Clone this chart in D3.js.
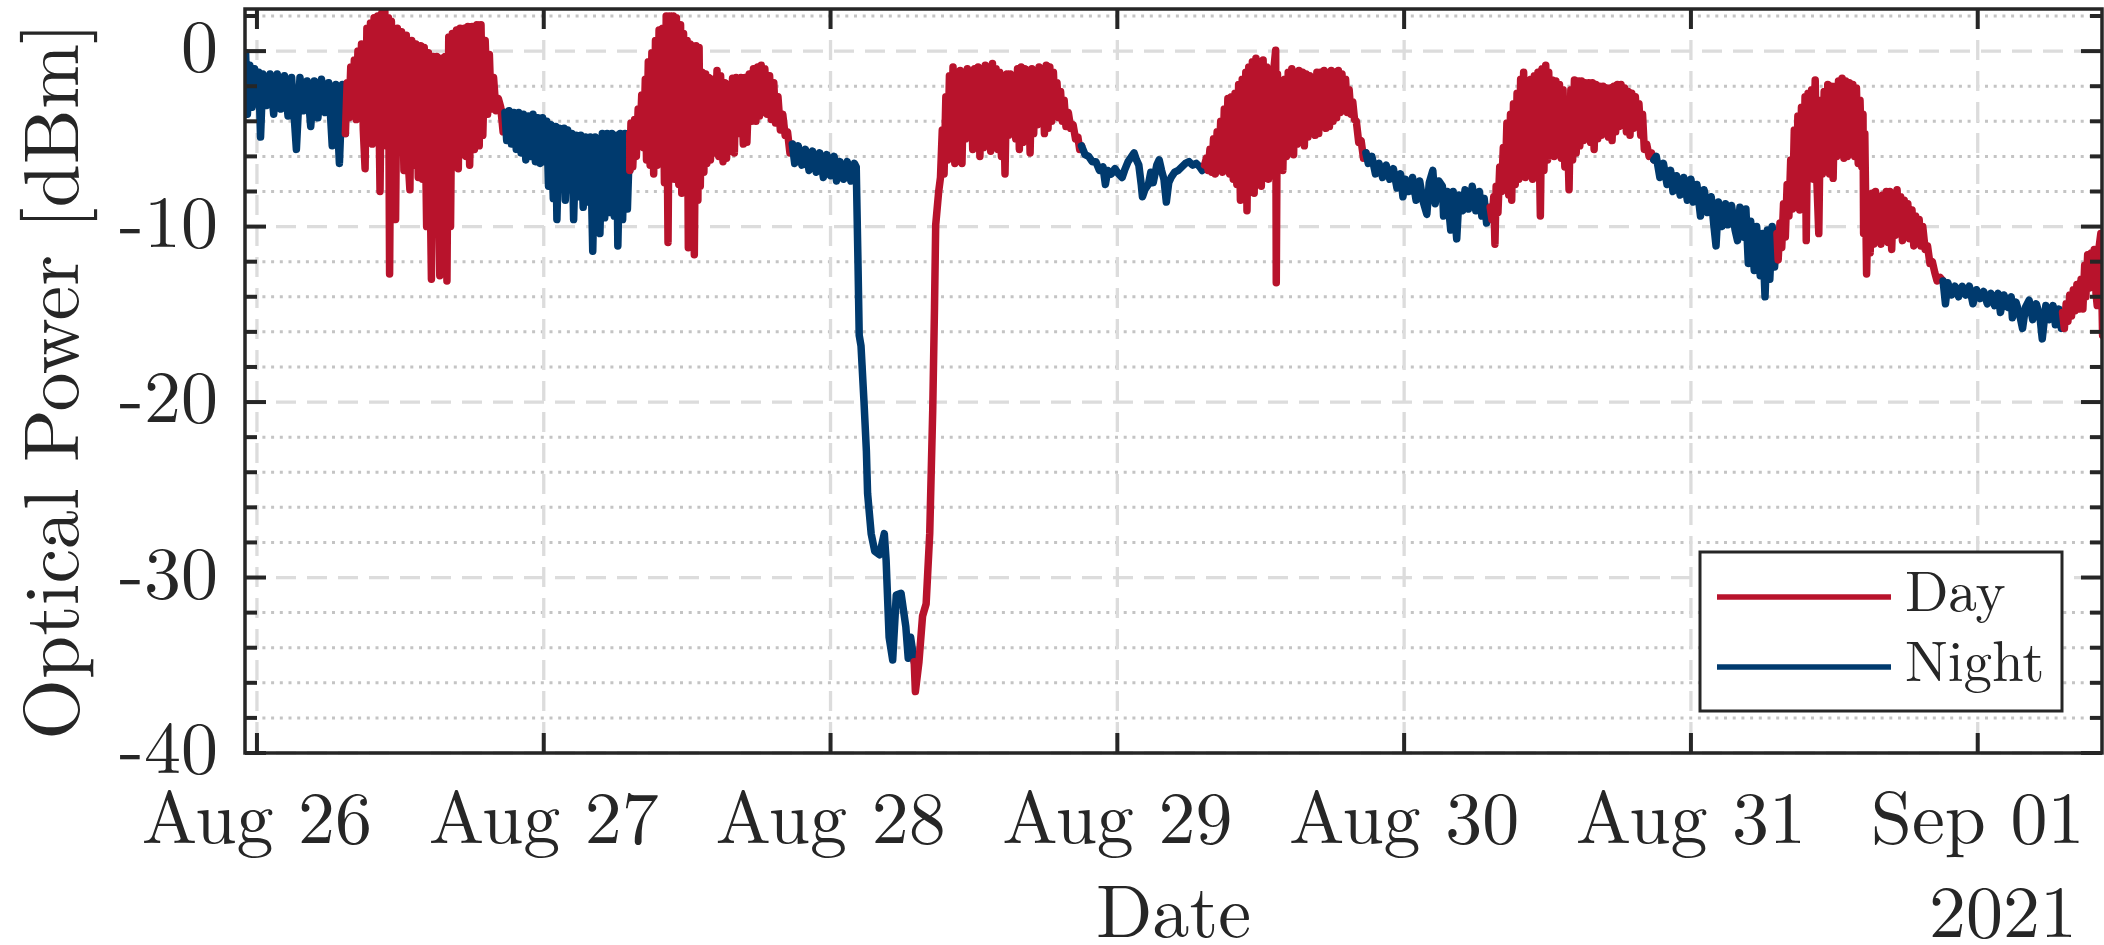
<!DOCTYPE html>
<html>
<head>
<meta charset="utf-8">
<script src="https://cdn.jsdelivr.net/npm/d3@7"></script>
<style>
  body { margin: 0; background: #fff; }
  text { font-family: "Latin Modern Roman", "CMU Serif", "Liberation Serif", "Times New Roman", serif; fill: #262626; }
</style>
</head>
<body>
<svg id="chart" width="2104" height="945"></svg>
<script>
// Optical power of a free-space link, Aug 26 - Sep 01 2021, day/night coloured

// hours after 2021-08-26 00:00 when the trace switches colour
const sunrise = [7.4, 31.2, 55.0, 79.3, 103.2, 127.2, 151.1];
const sunset = [20.75, 44.8, 69.0, 92.8, 116.9, 141.1];

const yMajor = [-40, -30, -20, -10, 0];
const seriesNames = ["Day", "Night"];

// [hour, dBm] (min/max envelope of the raw samples)
const power = [
  // night
  [-1.0,-1.5],[-0.95,-0.1],[-0.8,-3.6],[-0.6,-0.8],[-0.4,-3.2],[-0.2,-1.0],[0.0,-3.0],[0.15,-1.2],[0.3,-4.9],[0.5,-1.3],
  [0.8,-3.1],[1.1,-1.3],[1.4,-3.6],[1.7,-1.3],[2.0,-3.3],[2.3,-1.4],[2.6,-3.7],[2.9,-1.5],[3.3,-5.6],[3.6,-1.5],
  [3.9,-3.4],[4.2,-1.7],[4.5,-4.3],[4.8,-1.7],[5.1,-3.8],[5.4,-1.6],[5.7,-3.5],[6.0,-1.8],[6.3,-5.4],[6.6,-1.9],
  [6.9,-6.4],[7.15,-1.9],
  // day
  [7.4,-4.7],[7.55,-1.8],[7.7,-3.8],[7.85,-0.9],[8.0,-3.4],[8.15,-0.5],[8.3,-3.9],[8.45,0.0],[8.6,-3.0],[8.75,0.4],
  [8.9,-4.5],[9.05,-6.7],[9.2,1.3],[9.35,-4.8],[9.5,1.6],[9.65,-5.3],[9.8,1.9],[9.95,-5.2],[10.1,2.0],[10.3,-8.0],
  [10.45,2.2],[10.6,-5.3],[10.7,2.4],[10.85,-5.4],[11.0,1.9],[11.1,-12.7],[11.25,1.7],[11.45,-5.3],[11.6,-9.6],[11.75,1.3],
  [11.9,-5.5],[12.1,1.1],[12.3,-6.8],[12.5,0.9],[12.65,-6.2],[12.8,-7.9],[12.95,0.6],[13.1,-6.5],[13.3,0.4],[13.5,-7.2],
  [13.7,0.3],[13.85,-7.3],[14.0,0.2],[14.2,-10.0],[14.35,-0.1],[14.6,-13.0],[14.75,-0.3],[14.9,-10.1],[15.05,-0.3],[15.3,-12.8],
  [15.45,-0.4],[15.6,-10.2],[15.75,-0.3],[15.9,-13.1],[16.05,0.8],[16.2,-10.0],[16.35,1.0],[16.5,-6.6],[16.7,1.2],[16.85,-6.7],
  [17.0,1.3],[17.2,-5.9],[17.35,1.3],[17.5,-6.0],[17.65,1.4],[17.8,-6.5],[18.0,1.4],[18.2,-5.6],[18.4,1.5],[18.6,-5.4],
  [18.75,1.5],[18.9,-4.8],[19.1,0.6],[19.3,-3.6],[19.45,-0.2],[19.6,-3.3],[19.8,-1.5],[20.0,-3.4],[20.2,-2.7],[20.4,-3.2],
  [20.6,-4.6],[20.75,-3.5],
  // night
  [20.9,-5.1],[21.1,-3.4],[21.3,-5.3],[21.5,-3.5],[21.7,-5.6],[21.9,-3.5],[22.1,-5.8],[22.3,-3.6],[22.5,-6.2],[22.7,-3.7],
  [22.9,-6.0],[23.1,-3.6],[23.3,-6.3],[23.5,-3.8],[23.7,-6.4],[23.9,-3.8],[24.1,-6.3],[24.25,-4.0],[24.4,-7.7],[24.6,-4.2],
  [24.8,-8.4],[25.0,-4.3],[25.1,-9.6],[25.3,-4.4],[25.5,-7.6],[25.7,-4.4],[25.8,-8.5],[26.0,-4.5],[26.2,-7.9],[26.35,-4.7],
  [26.5,-9.6],[26.7,-4.8],[26.9,-8.3],[27.1,-4.8],[27.3,-8.9],[27.5,-4.9],[27.7,-8.6],[27.9,-4.9],[28.1,-11.4],[28.3,-4.9],
  [28.5,-9.0],[28.7,-10.4],[28.9,-4.7],[29.1,-9.5],[29.3,-4.7],[29.5,-9.2],[29.7,-4.7],[29.9,-9.4],[30.1,-4.8],[30.2,-11.1],
  [30.4,-4.7],[30.6,-9.6],[30.8,-4.7],[31.0,-9.0],[31.2,-4.7],
  // day
  [31.2,-6.8],[31.3,-4.1],[31.45,-6.6],[31.6,-3.9],[31.75,-6.0],[31.9,-3.3],[32.05,-5.1],[32.2,-2.5],[32.35,-5.5],[32.5,-1.6],
  [32.6,-6.2],[32.75,-0.6],[32.9,-6.5],[33.05,-0.1],[33.2,-7.0],[33.35,0.6],[33.5,-6.5],[33.65,1.2],[33.8,-6.2],[33.95,1.3],
  [34.1,-7.5],[34.25,2.0],[34.4,-10.9],[34.55,2.0],[34.7,-7.0],[34.85,2.0],[34.95,-7.3],[35.1,1.9],[35.3,-7.6],[35.45,1.5],
  [35.55,-8.1],[35.7,1.0],[35.85,-7.8],[36.0,0.6],[36.1,-11.2],[36.25,0.4],[36.4,-7.9],[36.5,0.3],[36.6,-11.6],[36.75,0.3],
  [36.9,-8.5],[37.0,0.2],[37.1,-7.7],[37.25,-1.2],[37.4,-6.9],[37.55,-1.3],[37.65,-6.4],[37.8,-1.5],[37.95,-6.2],[38.1,-1.6],
  [38.3,-5.8],[38.5,-1.1],[38.65,-6.0],[38.8,-1.4],[39.0,-6.3],[39.15,-1.8],[39.3,-6.1],[39.45,-1.9],[39.6,-5.7],[39.8,-1.55],
  [39.95,-5.8],[40.1,-1.5],[40.3,-4.7],[40.5,-1.5],[40.7,-5.3],[40.85,-1.5],[41.0,-5.2],[41.2,-1.3],[41.4,-4.0],[41.55,-1.0],
  [41.75,-4.0],[41.9,-0.9],[42.05,-3.7],[42.2,-0.8],[42.35,-3.5],[42.5,-1.0],[42.7,-3.6],[42.9,-1.4],[43.05,-3.9],[43.25,-1.8],
  [43.4,-4.1],[43.6,-2.6],[43.8,-4.5],[44.0,-3.6],[44.2,-4.8],[44.4,-4.6],[44.6,-5.8],[44.8,-5.3],
  // night, with the deep fade
  [45.0,-6.4],[45.3,-5.4],[45.6,-6.5],[45.9,-5.6],[46.2,-6.8],[46.5,-5.7],[46.8,-6.9],[47.1,-5.8],[47.4,-7.2],[47.7,-5.9],
  [48.0,-7.1],[48.3,-6.0],[48.5,-7.4],[48.8,-6.3],[49.1,-7.3],[49.4,-6.3],[49.7,-7.4],[50.0,-6.4],[50.15,-6.6],[50.3,-12.2],
  [50.4,-16.2],[50.55,-16.8],[50.8,-20.0],[51.0,-22.8],[51.1,-25.2],[51.4,-27.5],[51.7,-28.5],[52.1,-28.7],[52.5,-27.5],[52.65,-29.0],
  [52.9,-33.4],[53.2,-34.7],[53.5,-31.0],[53.9,-30.9],[54.3,-32.8],[54.5,-34.6],[54.7,-33.4],[55.0,-34.8],
  // day
  [55.1,-36.5],[55.4,-34.8],[55.7,-32.2],[56.0,-31.5],[56.3,-27.5],[56.55,-20.5],[56.7,-14.6],[56.8,-9.9],[57.05,-8.0],[57.2,-7.2],
  [57.35,-4.5],[57.5,-7.0],[57.65,-2.6],[57.8,-6.2],[57.95,-1.4],[58.1,-5.5],[58.25,-0.9],[58.4,-6.4],[58.55,-1.2],[58.7,-5.2],
  [58.85,-1.1],[59.0,-6.4],[59.15,-1.3],[59.3,-5.0],[59.45,-1.0],[59.6,-4.9],[59.75,-1.2],[59.9,-5.6],[60.05,-1.0],[60.2,-5.2],
  [60.35,-0.9],[60.5,-6.0],[60.65,-1.2],[60.8,-5.5],[60.95,-0.8],[61.1,-5.1],[61.25,-0.9],[61.4,-5.7],[61.55,-0.7],[61.7,-5.3],
  [61.85,-1.0],[62.0,-5.6],[62.15,-1.2],[62.3,-6.0],[62.45,-1.4],[62.6,-7.0],[62.75,-1.3],[62.9,-4.8],[63.05,-1.3],[63.2,-4.3],
  [63.35,-1.5],[63.5,-5.0],[63.65,-1.0],[63.8,-5.6],[63.95,-0.9],[64.1,-5.2],[64.25,-1.0],[64.4,-4.9],[64.55,-1.1],[64.7,-5.8],
  [64.85,-1.0],[65.0,-4.7],[65.15,-1.1],[65.3,-4.2],[65.45,-0.9],[65.6,-3.9],[65.75,-1.0],[65.9,-4.7],[66.05,-0.8],[66.2,-4.4],
  [66.35,-0.9],[66.5,-4.0],[66.65,-1.2],[66.8,-3.7],[66.95,-1.8],[67.1,-3.8],[67.25,-2.3],[67.4,-4.0],[67.55,-2.8],[67.7,-4.3],
  [67.9,-3.5],[68.1,-4.4],[68.3,-4.2],[68.5,-5.0],[68.7,-4.9],[68.85,-5.6],[69.0,-5.4],
  // night
  [69.3,-5.9],[69.6,-6.0],[69.9,-6.3],[70.2,-6.3],[70.5,-6.8],[70.8,-6.6],[71.0,-7.6],[71.2,-6.8],[71.5,-7.0],[71.8,-6.7],
  [72.1,-7.0],[72.4,-7.2],[72.6,-6.8],[72.9,-6.3],[73.2,-6.0],[73.4,-5.8],[73.6,-6.2],[73.8,-6.5],[74.0,-7.6],[74.1,-8.3],
  [74.3,-7.9],[74.6,-7.6],[74.8,-6.9],[75.0,-7.5],[75.3,-6.5],[75.5,-6.2],[75.7,-6.8],[75.9,-7.3],[76.1,-8.6],[76.3,-7.5],
  [76.5,-7.2],[76.8,-6.9],[77.1,-6.8],[77.4,-6.6],[77.7,-6.4],[78.0,-6.3],[78.3,-6.5],[78.6,-6.4],[78.9,-6.6],[79.1,-6.8],
  [79.3,-6.5],
  // day
  [79.45,-6.1],[79.6,-6.8],[79.75,-5.6],[79.9,-6.9],[80.05,-5.0],[80.2,-7.0],[80.35,-4.6],[80.5,-6.6],[80.65,-4.0],[80.8,-6.9],
  [80.95,-3.3],[81.1,-6.6],[81.25,-2.7],[81.4,-7.0],[81.55,-2.6],[81.7,-7.3],[81.85,-2.4],[82.0,-7.6],[82.15,-1.9],[82.3,-8.5],
  [82.45,-1.6],[82.6,-7.8],[82.75,-1.2],[82.85,-9.1],[83.0,-0.9],[83.15,-7.6],[83.3,-0.6],[83.45,-8.1],[83.6,-0.4],[83.75,-7.3],
  [83.9,-0.6],[84.05,-7.7],[84.2,-0.5],[84.35,-7.0],[84.5,-0.9],[84.65,-7.3],[84.8,-1.6],[84.95,-6.9],[85.1,-1.0],[85.25,0.05],
  [85.3,-13.2],[85.4,-1.3],[85.55,-6.5],[85.7,-2.0],[85.85,-6.8],[86.0,-1.6],[86.15,-6.0],[86.3,-1.2],[86.45,-5.8],[86.6,-1.0],
  [86.75,-5.9],[86.9,-1.2],[87.05,-5.3],[87.2,-1.1],[87.35,-5.0],[87.5,-1.2],[87.65,-5.4],[87.8,-1.3],[87.95,-4.9],[88.1,-1.4],
  [88.25,-4.6],[88.4,-1.55],[88.55,-4.8],[88.7,-1.2],[88.85,-4.7],[89.0,-1.2],[89.15,-4.2],[89.3,-1.1],[89.45,-4.4],[89.6,-1.3],
  [89.75,-4.3],[89.9,-1.1],[90.05,-4.0],[90.2,-1.2],[90.35,-3.8],[90.5,-1.1],[90.65,-3.5],[90.8,-1.3],[90.95,-3.4],[91.1,-1.6],
  [91.25,-3.5],[91.4,-2.2],[91.55,-3.6],[91.7,-2.9],[91.85,-3.9],[92.0,-4.0],[92.2,-5.2],[92.4,-5.1],[92.6,-6.1],[92.8,-5.8],
  // night
  [93.0,-6.4],[93.3,-6.0],[93.6,-7.0],[93.9,-6.4],[94.2,-7.2],[94.5,-6.5],[94.8,-7.3],[95.1,-6.7],[95.4,-7.8],[95.7,-7.0],
  [95.9,-8.3],[96.1,-7.3],[96.4,-8.0],[96.7,-7.2],[97.0,-8.5],[97.3,-7.4],[97.6,-8.6],[97.9,-9.3],[98.1,-7.5],[98.4,-6.8],
  [98.6,-8.7],[98.9,-7.4],[99.2,-7.7],[99.3,-9.4],[99.6,-8.0],[99.9,-10.2],[100.1,-8.0],[100.4,-10.7],[100.6,-8.2],[100.9,-9.1],
  [101.1,-7.9],[101.4,-9.0],[101.7,-7.7],[102.0,-9.1],[102.3,-8.0],[102.5,-9.4],[102.7,-8.4],[102.9,-9.8],[103.2,-8.9],
  // day
  [103.35,-9.6],[103.5,-8.3],[103.6,-11.0],[103.7,-7.7],[103.85,-9.2],[104.0,-6.6],[104.15,-8.0],[104.3,-5.5],[104.45,-7.7],[104.6,-4.1],
  [104.75,-8.2],[104.9,-3.6],[105.0,-8.5],[105.15,-3.0],[105.3,-7.6],[105.45,-2.4],[105.6,-7.3],[105.75,-1.6],[105.9,-7.0],[106.0,-1.2],
  [106.15,-7.2],[106.3,-2.0],[106.45,-6.8],[106.6,-1.6],[106.75,-7.3],[106.9,-1.4],[107.05,-6.9],[107.2,-1.2],[107.4,-9.4],[107.55,-1.0],
  [107.7,-6.8],[107.85,-0.8],[108.0,-6.2],[108.1,-1.2],[108.25,-5.8],[108.4,-1.65],[108.55,-6.0],[108.7,-1.7],[108.85,-5.9],[109.0,-1.9],
  [109.15,-6.1],[109.3,-2.2],[109.45,-6.6],[109.6,-2.8],[109.8,-7.9],[109.95,-2.2],[110.1,-6.2],[110.25,-1.65],[110.4,-5.8],[110.55,-1.7],
  [110.7,-5.4],[110.85,-1.7],[111.0,-5.1],[111.15,-1.8],[111.3,-4.9],[111.45,-1.8],[111.6,-5.2],[111.75,-1.8],[111.9,-5.6],[112.05,-1.9],
  [112.2,-5.0],[112.35,-2.0],[112.5,-4.8],[112.65,-2.0],[112.8,-4.7],[112.95,-2.1],[113.1,-4.9],[113.25,-2.1],[113.4,-5.1],[113.55,-2.0],
  [113.7,-4.6],[113.85,-1.9],[114.0,-4.3],[114.15,-1.9],[114.3,-4.1],[114.45,-2.1],[114.6,-4.6],[114.75,-2.3],[114.9,-4.8],[115.05,-2.4],
  [115.2,-4.4],[115.35,-2.6],[115.5,-4.3],[115.65,-3.0],[115.8,-4.8],[115.95,-3.6],[116.1,-5.6],[116.3,-5.3],[116.5,-6.0],[116.7,-5.8],
  [116.9,-6.2],
  // night
  [117.1,-6.0],[117.4,-7.2],[117.7,-6.4],[118.0,-7.6],[118.3,-6.8],[118.5,-8.0],[118.8,-7.1],[119.1,-8.2],[119.4,-7.2],[119.7,-8.5],
  [120.0,-7.3],[120.2,-8.6],[120.5,-7.6],[120.8,-9.4],[121.1,-7.9],[121.4,-9.2],[121.7,-8.3],[121.9,-9.8],[122.1,-11.1],[122.3,-8.6],
  [122.6,-10.0],[122.9,-8.7],[123.1,-9.9],[123.4,-8.8],[123.7,-10.2],[123.9,-10.8],[124.1,-8.9],[124.4,-10.6],[124.6,-9.0],[124.8,-12.1],
  [125.0,-9.7],[125.3,-12.5],[125.5,-10.0],[125.8,-12.8],[126.0,-10.4],[126.2,-14.0],[126.4,-10.2],[126.6,-13.0],[126.8,-10.0],[127.0,-12.3],
  [127.2,-10.4],
  // day
  [127.3,-11.9],[127.45,-9.8],[127.6,-11.2],[127.75,-8.7],[127.9,-10.6],[128.05,-7.6],[128.2,-9.4],[128.35,-6.2],[128.5,-9.0],[128.65,-4.5],
  [128.8,-8.9],[128.95,-3.7],[129.1,-9.05],[129.25,-3.2],[129.4,-8.2],[129.55,-2.6],[129.65,-10.8],[129.8,-2.4],[129.95,-6.8],[130.1,-2.2],
  [130.25,-7.3],[130.4,-1.65],[130.55,-7.6],[130.7,-10.4],[130.85,-2.8],[131.0,-7.0],[131.15,-2.3],[131.3,-6.6],[131.45,-1.9],[131.6,-7.0],
  [131.75,-2.0],[131.9,-7.25],[132.05,-2.0],[132.2,-6.0],[132.35,-1.7],[132.5,-5.6],[132.65,-1.55],[132.8,-6.1],[132.95,-1.7],[133.1,-6.0],
  [133.25,-1.8],[133.4,-5.8],[133.55,-1.9],[133.7,-6.0],[133.85,-2.1],[134.0,-6.4],[134.15,-2.8],[134.3,-6.6],[134.4,-3.6],[134.45,-10.4],
  [134.55,-4.7],[134.7,-12.7],[134.85,-8.3],[135.0,-11.5],[135.15,-8.1],[135.3,-11.0],[135.45,-8.0],[135.6,-10.4],[135.75,-8.3],[135.9,-11.0],
  [136.05,-8.2],[136.2,-10.6],[136.35,-8.0],[136.5,-10.9],[136.65,-8.0],[136.8,-11.3],[136.95,-8.2],[137.1,-10.5],[137.25,-7.9],[137.4,-10.4],
  [137.55,-8.3],[137.7,-10.8],[137.85,-8.5],[138.0,-10.5],[138.15,-8.7],[138.3,-10.7],[138.5,-9.05],[138.65,-11.1],[138.8,-9.4],[138.95,-10.8],
  [139.1,-9.6],[139.25,-11.1],[139.4,-10.0],[139.6,-11.3],[139.8,-11.1],[140.0,-12.1],[140.2,-12.0],[140.4,-12.6],[140.6,-13.1],[140.85,-12.9],
  [141.1,-13.1],
  // night
  [141.3,-14.4],[141.5,-13.2],[141.8,-13.9],[142.1,-13.4],[142.4,-14.0],[142.7,-13.4],[143.0,-13.9],[143.3,-13.4],[143.6,-14.4],[143.9,-13.6],
  [144.2,-14.1],[144.5,-13.7],[144.8,-14.4],[145.1,-13.8],[145.4,-14.5],[145.7,-13.8],[145.9,-14.9],[146.2,-13.9],[146.5,-14.6],[146.8,-14.0],
  [146.9,-15.2],[147.2,-14.3],[147.5,-15.0],[147.75,-15.8],[148.0,-14.6],[148.3,-14.2],[148.6,-15.3],[148.9,-14.4],[149.2,-15.1],[149.4,-16.4],
  [149.7,-14.5],[150.0,-15.3],[150.3,-14.5],[150.5,-15.6],[150.8,-14.7],[151.0,-15.8],[151.1,-14.9],
  // day
  [151.25,-15.8],[151.4,-14.4],[151.55,-15.4],[151.7,-13.9],[151.85,-15.1],[152.0,-13.6],[152.15,-14.8],[152.3,-13.3],[152.5,-14.7],[152.65,-13.0],
  [152.8,-14.7],[152.95,-12.2],[153.05,-14.0],[153.2,-11.6],[153.35,-13.5],[153.5,-11.5],[153.6,-13.4],[153.75,-11.3],[153.9,-13.8],[154.0,-14.5],
  [154.15,-11.2],[154.3,-10.4],[154.45,-16.2]
];

const W = 2104, H = 945;
const margin = { left: 245, right: 2102, top: 9, bottom: 753 };
const red = "#b8132c", blue = "#003a6e", ink = "#262626";

const t0 = new Date(2021, 7, 26);
const toDate = h => new Date(t0.getTime() + h * 36e5);

const x = d3.scaleTime()
  .domain([toDate(-1.0), toDate(154.4)])
  .range([margin.left, margin.right]);
const y = d3.scaleLinear()
  .domain([-40, 2.4])
  .range([margin.bottom, margin.top]);

const svg = d3.select("#chart");
svg.append("rect").attr("width", W).attr("height", H).attr("fill", "#fff");

svg.append("defs").append("clipPath").attr("id", "plot")
  .append("rect")
  .attr("x", margin.left).attr("y", margin.top)
  .attr("width", margin.right - margin.left)
  .attr("height", margin.bottom - margin.top);

const days = x.ticks(d3.timeDay.every(1));
const yMinor = d3.range(-40, 2.5, 2).filter(v => !yMajor.includes(v));

// grid
const grid = svg.append("g");
grid.selectAll(".minor").data(yMinor).join("line")
  .attr("x1", margin.left).attr("x2", margin.right)
  .attr("y1", d => y(d)).attr("y2", d => y(d))
  .attr("stroke", "#c4c4c4").attr("stroke-width", 3).attr("stroke-dasharray", "3,5.7");
grid.selectAll(".major").data(yMajor).join("line")
  .attr("x1", margin.left).attr("x2", margin.right)
  .attr("y1", d => y(d)).attr("y2", d => y(d))
  .attr("stroke", "#dcdcdc").attr("stroke-width", 3.3).attr("stroke-dasharray", "20,11");
grid.selectAll(".vmajor").data(days).join("line")
  .attr("x1", d => x(d)).attr("x2", d => x(d))
  .attr("y1", margin.top).attr("y2", margin.bottom)
  .attr("stroke", "#dcdcdc").attr("stroke-width", 3.3).attr("stroke-dasharray", "20,11");

// split the trace at sunrise / sunset
const edges = [power[0][0], ...sunrise.concat(sunset).sort(d3.ascending), power[power.length - 1][0]];
const segments = d3.pairs(edges).map(([a, b]) => ({
  day: sunrise.includes(a),
  pts: power.filter(p => p[0] >= a && p[0] <= b)
}));

const line = d3.line()
  .x(d => x(toDate(d[0])))
  .y(d => y(d[1]));

svg.append("g").attr("clip-path", "url(#plot)")
  .selectAll("path").data(segments).join("path")
  .attr("d", d => line(d.pts))
  .attr("fill", "none")
  .attr("stroke", d => d.day ? red : blue)
  .attr("stroke-width", 7.5)
  .attr("stroke-linejoin", "round")
  .attr("stroke-linecap", "round");

// axes box and inward ticks
const ax = svg.append("g").attr("stroke", ink);
ax.append("rect")
  .attr("x", margin.left).attr("y", margin.top)
  .attr("width", margin.right - margin.left)
  .attr("height", margin.bottom - margin.top)
  .attr("fill", "none").attr("stroke-width", 3.5);

const yTicks = yMajor.map(v => ({ v, len: 21 })).concat(yMinor.map(v => ({ v, len: 12 })));
ax.selectAll(".yl").data(yTicks).join("line")
  .attr("x1", margin.left).attr("x2", d => margin.left + d.len)
  .attr("y1", d => y(d.v)).attr("y2", d => y(d.v))
  .attr("stroke-width", 4);
ax.selectAll(".yr").data(yTicks).join("line")
  .attr("x1", margin.right).attr("x2", d => margin.right - d.len)
  .attr("y1", d => y(d.v)).attr("y2", d => y(d.v))
  .attr("stroke-width", 4);
ax.selectAll(".xb").data(days).join("line")
  .attr("x1", d => x(d)).attr("x2", d => x(d))
  .attr("y1", margin.bottom).attr("y2", margin.bottom - 20)
  .attr("stroke-width", 4);
ax.selectAll(".xt").data(days).join("line")
  .attr("x1", d => x(d)).attr("x2", d => x(d))
  .attr("y1", margin.top).attr("y2", margin.top + 20)
  .attr("stroke-width", 4);

// tick labels
const fmt = d3.timeFormat("%b %d");
svg.append("g").selectAll("text").data(yMajor).join("text")
  .attr("x", 218).attr("y", d => y(d) + 20)
  .attr("text-anchor", "end")
  .attr("font-size", 74)
  .text(d => String(d));
svg.append("g").selectAll("text").data(days).join("text")
  .attr("x", d => x(d)).attr("y", 843)
  .attr("text-anchor", "middle")
  .attr("font-size", 74)
  .text(d => fmt(d));

svg.append("text")
  .attr("x", 2077).attr("y", 937)
  .attr("text-anchor", "end").attr("font-size", 74)
  .text("2021");
svg.append("text")
  .attr("x", (margin.left + margin.right) / 2).attr("y", 937)
  .attr("text-anchor", "middle").attr("font-size", 74)
  .text("Date");
svg.append("text")
  .attr("transform", "translate(78,381) rotate(-90)")
  .attr("text-anchor", "middle").attr("font-size", 78)
  .text("Optical Power [dBm]");

// legend
const lg = svg.append("g");
lg.append("rect")
  .attr("x", 1700).attr("y", 552).attr("width", 362).attr("height", 159)
  .attr("fill", "#fff").attr("stroke", ink).attr("stroke-width", 3);
lg.selectAll("line").data(seriesNames).join("line")
  .attr("x1", 1717).attr("x2", 1891)
  .attr("y1", (d, i) => 597 + i * 70).attr("y2", (d, i) => 597 + i * 70)
  .attr("stroke", (d, i) => i === 0 ? red : blue)
  .attr("stroke-width", 5.3);
lg.selectAll("text").data(seriesNames).join("text")
  .attr("x", 1905).attr("y", (d, i) => 611 + i * 70)
  .attr("font-size", 57)
  .text(d => d);
</script>
</body>
</html>
